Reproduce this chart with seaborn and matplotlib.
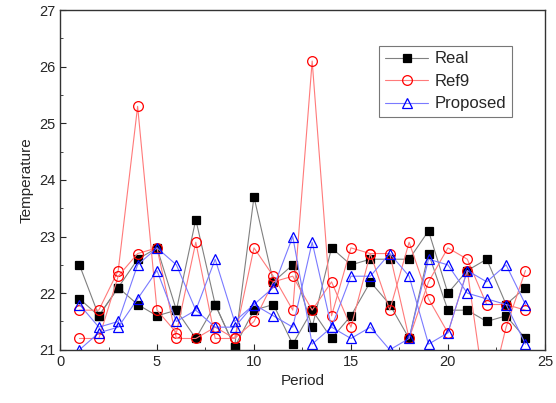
import pandas as pd
import seaborn as sns
import matplotlib.pyplot as plt
from matplotlib.ticker import MultipleLocator

# dados (duas curvas por série)
periods = list(range(1, 25))
real_a = [22.5, 21.6, 22.1, 21.8, 21.6, 21.7, 23.3, 21.8, 21.05, 23.7, 22.2, 22.5,
          21.4, 22.8, 22.5, 22.6, 22.6, 22.6, 23.1, 22.0, 22.4, 22.6, 21.8, 22.1]
real_b = [21.9, 21.6, 22.1, 22.6, 22.8, 21.7, 21.2, 21.8, 21.05, 21.7, 21.8, 21.1,
          21.7, 21.2, 21.6, 22.2, 21.8, 21.2, 22.7, 21.7, 21.7, 21.5, 21.6, 21.2]
ref9_a = [21.7, 21.7, 22.4, 25.3, 21.7, 21.3, 22.9, 21.2, 21.2, 22.8, 22.3, 21.7,
          26.1, 21.6, 22.8, 22.7, 22.7, 21.2, 22.2, 22.8, 22.6, 21.8, 21.8, 21.7]
ref9_b = [21.2, 21.2, 22.3, 22.7, 22.8, 21.2, 21.2, 21.4, 21.2, 21.5, 22.2, 22.3,
          21.7, 22.2, 21.4, 22.7, 21.7, 22.9, 21.9, 21.3, 22.4, 20.0, 21.4, 22.4]
prop_a = [21.8, 21.4, 21.5, 22.5, 22.8, 22.5, 21.7, 22.6, 21.5, 21.8, 22.1, 23.0,
          21.1, 21.4, 22.3, 22.3, 22.7, 22.3, 21.1, 21.3, 22.4, 22.2, 22.5, 21.8]
prop_b = [21.0, 21.3, 21.4, 21.9, 22.4, 21.5, 21.7, 21.4, 21.4, 21.8, 21.6, 21.4,
          22.9, 21.4, 21.2, 21.4, 21.0, 21.2, 22.6, 22.5, 22.0, 21.9, 21.8, 21.1]

# nome: (curvas, cor da linha, cor do marcador, marcador, preenchimento, tamanho)
series = {
    'Real': ([real_a, real_b], '#808080', 'black', 's', 'black', 6),
    'Ref9': ([ref9_a, ref9_b], '#ff7a7a', 'red', 'o', 'none', 7),
    'Proposed': ([prop_a, prop_b], '#7a7aff', 'blue', '^', 'none', 7),
}

sns.set_style('ticks')
plt.rcParams['font.family'] = ['Liberation Sans', 'DejaVu Sans']

fig = plt.figure(figsize=(5.56, 4.03), dpi=100)
ax = fig.add_axes([0.108, 0.132, 0.872, 0.843])

for name, (lines, lcolor, mcolor, marker, face, ms) in series.items():
    for i, vals in enumerate(lines):
        df = pd.DataFrame({'Period': periods, 'Temperature': vals})
        sns.lineplot(data=df, x='Period', y='Temperature', ax=ax, color=lcolor,
                     linewidth=0.8, marker=marker, markersize=ms,
                     markerfacecolor=face, markeredgecolor=mcolor,
                     markeredgewidth=0.9, label=name if i == 0 else None,
                     legend=False)

ax.set_xlim(0, 25)
ax.set_ylim(21, 27)
ax.xaxis.set_major_locator(MultipleLocator(5))
ax.xaxis.set_minor_locator(MultipleLocator(2.5))
ax.yaxis.set_major_locator(MultipleLocator(1))
ax.yaxis.set_minor_locator(MultipleLocator(0.5))
ax.tick_params(which='both', direction='in', top=False, right=False, labelsize=10.5)
ax.tick_params(which='major', length=4)
ax.tick_params(which='minor', length=2.5)
for s in ax.spines.values():
    s.set_linewidth(1.0)
    s.set_color('#333333')
ax.set_xlabel('Period', fontsize=11)
ax.set_ylabel('Temperature', fontsize=11)

h, l = ax.get_legend_handles_labels()
leg = ax.legend(h, l, loc='upper right', bbox_to_anchor=(0.95, 0.92), fontsize=12,
                frameon=True, fancybox=False, edgecolor='#555555', handlelength=2.6,
                borderpad=0.35, labelspacing=0.45, handletextpad=0.4)
leg.get_frame().set_linewidth(0.8)

plt.savefig('out.png', dpi=100)
